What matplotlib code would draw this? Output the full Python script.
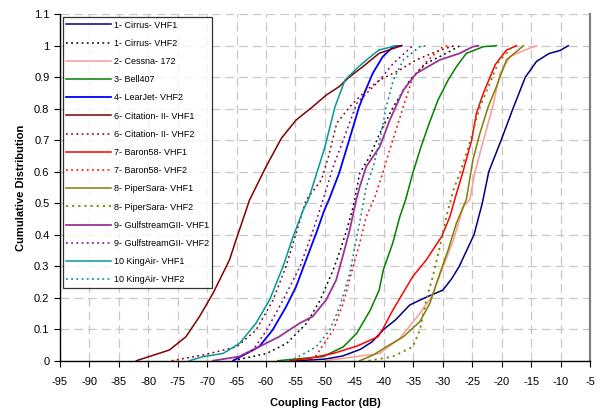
import matplotlib.pyplot as plt

plt.rcParams["font.family"] = ["Liberation Sans", "DejaVu Sans"]
plt.rcParams["axes.unicode_minus"] = False

# Empirical CDF curves traced as (coupling factor dB, cumulative fraction)
cdf_levels_cirrus1 = [0, 0.005, 0.015, 0.036, 0.06, 0.1, 0.13, 0.177, 0.2, 0.224, 0.26, 0.3, 0.4, 0.5, 0.6, 0.7, 0.8, 0.9, 0.95, 0.975, 0.985, 1.0]
db_cirrus1 = [-55, -50, -47, -44, -42, -40, -38, -35.6, -33, -30, -28.5, -27.2, -24.7, -23.3, -22.2, -20.1, -18.1, -16.0, -14.1, -12, -10.1, -8.7]

cdf_levels_cirrus2 = [0, 0.023, 0.055, 0.119, 0.193, 0.288, 0.351, 0.415, 0.489, 0.595, 0.648, 0.722, 0.806, 0.891, 0.944, 0.976, 1.0]
db_cirrus2 = [-65.6, -59.9, -56.5, -53.1, -50.8, -48.6, -47.4, -46.3, -45.2, -44.1, -42.4, -40.7, -38.4, -35.6, -32.8, -29.4, -27.1]

cdf_levels_cessna = [0, 0.023, 0.071, 0.15, 0.203, 0.30, 0.383, 0.489, 0.512, 0.595, 0.679, 0.754, 0.817, 0.912, 0.965, 0.98, 1.0]
db_cessna = [-50, -40.7, -37.3, -33.9, -31.9, -29.9, -28.2, -26.5, -25.4, -24.6, -23.4, -22.3, -21.4, -20.3, -18.6, -16.9, -14.1]

cdf_levels_bell = [0, 0.013, 0.044, 0.087, 0.161, 0.224, 0.288, 0.373, 0.457, 0.512, 0.595, 0.679, 0.754, 0.828, 0.891, 0.933, 0.976, 0.997, 1.0]
db_bell = [-58, -50.3, -46.9, -44.6, -42.3, -40.8, -40.1, -38.5, -37.3, -36.3, -35.1, -33.7, -32.3, -30.8, -29.1, -27.7, -26, -23.1, -20.9]

cdf_levels_learjet = [0, 0.044, 0.097, 0.171, 0.235, 0.32, 0.404, 0.478, 0.512, 0.595, 0.70, 0.806, 0.859, 0.912, 0.965, 0.997, 1.0]
db_learjet = [-65.6, -61.2, -58.9, -56.6, -54.9, -53.2, -51.5, -50.1, -49.3, -47.6, -45.9, -44.2, -43.1, -41.9, -40.2, -38.4, -37]

cdf_levels_citation1 = [0, 0.034, 0.076, 0.14, 0.214, 0.32, 0.383, 0.51, 0.616, 0.706, 0.764, 0.806, 0.843, 0.87, 0.90, 0.933, 0.976, 1.0]
db_citation1 = [-82, -76.4, -73.6, -71.3, -69.0, -66.2, -65.1, -62.8, -60.0, -57.4, -54.9, -52.1, -49.8, -47.6, -45.9, -43.6, -40.8, -37]

cdf_levels_citation2 = [0, 0.018, 0.044, 0.097, 0.193, 0.30, 0.404, 0.51, 0.574, 0.648, 0.754, 0.806, 0.859, 0.891, 0.923, 0.955, 0.986, 1.0]
db_citation2 = [-76, -70.7, -65.0, -61.7, -58.8, -56.6, -54.9, -53.2, -50.6, -49.4, -48.0, -45.8, -43.0, -40.7, -37.3, -34.5, -30.5, -28]

cdf_levels_baron1 = [0, 0.008, 0.023, 0.047, 0.076, 0.1, 0.16, 0.267, 0.32, 0.394, 0.457, 0.51, 0.605, 0.70, 0.785, 0.85, 0.94, 0.986, 1.0]
db_baron1 = [-56, -52.6, -48.6, -44.5, -41, -40.2, -38.5, -35.1, -32.8, -30.2, -28.8, -28, -26.5, -25.1, -24.3, -23.1, -21.1, -19.2, -17.5]

cdf_levels_baron2 = [0, 0.097, 0.182, 0.30, 0.373, 0.457, 0.521, 0.595, 0.70, 0.806, 0.90, 0.949, 0.997, 1.0]
db_baron2 = [-52.1, -48.6, -46.9, -45.2, -44.1, -43.0, -41.5, -40.2, -38.5, -36.7, -35.1, -32.8, -30.0, -29]

cdf_levels_piper1 = [0, 0.018, 0.044, 0.076, 0.124, 0.182, 0.277, 0.351, 0.436, 0.512, 0.637, 0.722, 0.806, 0.87, 0.955, 1.0]
db_piper1 = [-44.1, -41.8, -39.6, -36.7, -33.9, -32.2, -30.5, -29.1, -27.7, -26.0, -24.9, -23.7, -22.3, -20.9, -19.2, -16.3]

cdf_levels_piper2 = [0, 0.013, 0.044, 0.097, 0.193, 0.267, 0.362, 0.457, 0.542, 0.6, 0.7, 0.8, 0.9, 0.95, 1.0]
db_piper2 = [-42.6, -38.5, -35.1, -33.9, -32.8, -31.7, -30.5, -29.4, -28.2, -27.0, -25.3, -23.8, -21.6, -20.5, -18]

cdf_levels_gulf1 = [0, 0.013, 0.044, 0.076, 0.119, 0.14, 0.193, 0.256, 0.33, 0.415, 0.51, 0.552, 0.616, 0.679, 0.764, 0.859, 0.912, 0.955, 0.976, 0.997, 1.0]
db_gulf1 = [-69, -64.6, -61.2, -57.8, -54.3, -52.1, -49.8, -48.1, -47.0, -45.8, -44.7, -44.1, -43.0, -40.7, -39.0, -36.7, -34.5, -30.5, -27.1, -24.9, -24]

cdf_levels_gulf2 = [0, 0.034, 0.097, 0.193, 0.30, 0.415, 0.512, 0.616, 0.70, 0.817, 0.87, 0.891, 0.944, 1.0]
db_gulf2 = [-65.6, -62.2, -59.9, -57.1, -54.2, -52.0, -50.3, -48.6, -46.9, -44.6, -41.8, -40.7, -38.4, -35.1]

cdf_levels_kingair1 = [0, 0.013, 0.023, 0.055, 0.119, 0.193, 0.30, 0.394, 0.478, 0.512, 0.595, 0.679, 0.806, 0.891, 0.933, 0.96, 0.986, 1.0]
db_kingair1 = [-73, -70.7, -67.3, -64.5, -61.7, -59.4, -57.1, -55.4, -53.7, -52.8, -51.4, -50.0, -48.3, -46.6, -44.3, -42.6, -40.9, -38]

cdf_levels_kingair2 = [0, 0.008, 0.044, 0.097, 0.171, 0.277, 0.383, 0.489, 0.552, 0.616, 0.70, 0.806, 0.891, 0.955, 0.997, 1.0]
db_kingair2 = [-57, -54.9, -51.5, -49.2, -47.5, -45.8, -44.7, -43.6, -43.0, -41.8, -40.7, -39.6, -38.4, -36.7, -33.9, -33]

series_names = [
    "1- Cirrus- VHF1", "1- Cirrus- VHF2", "2- Cessna- 172", "3- Bell407",
    "4- LearJet- VHF2", "6- Citation- II- VHF1", "6- Citation- II- VHF2",
    "7- Baron58- VHF1", "7- Baron58- VHF2", "8- PiperSara- VHF1",
    "8- PiperSara- VHF2", "9- GulfstreamGII- VHF1", "9- GulfstreamGII- VHF2",
    "10 KingAir- VHF1", "10 KingAir- VHF2",
]
series_x = [db_cirrus1, db_cirrus2, db_cessna, db_bell, db_learjet,
            db_citation1, db_citation2, db_baron1, db_baron2, db_piper1,
            db_piper2, db_gulf1, db_gulf2, db_kingair1, db_kingair2]
series_y = [cdf_levels_cirrus1, cdf_levels_cirrus2, cdf_levels_cessna,
            cdf_levels_bell, cdf_levels_learjet, cdf_levels_citation1,
            cdf_levels_citation2, cdf_levels_baron1, cdf_levels_baron2,
            cdf_levels_piper1, cdf_levels_piper2, cdf_levels_gulf1,
            cdf_levels_gulf2, cdf_levels_kingair1, cdf_levels_kingair2]

dot = (0, (1.2, 2.2))
styles = [
    ("#000080", "-", 1.1), ("#000000", dot, 1.1), ("#FF9999", "-", 1.1),
    ("#008000", "-", 1.1), ("#0000FF", "-", 1.3), ("#800000", "-", 1.1),
    ("#800000", dot, 1.1), ("#FF0000", "-", 1.1), ("#FF0000", dot, 1.1),
    ("#808000", "-", 1.1), ("#808000", dot, 1.3), ("#993399", "-", 1.3),
    ("#800080", dot, 1.1), ("#009999", "-", 1.1), ("#008080", dot, 1.1),
]

fig = plt.figure(figsize=(6.04, 4.12), dpi=100)
ax = fig.add_axes([0.099, 0.1245, 0.878, 0.841])

for name, xs, ys, (color, ls, lw) in zip(series_names, series_x, series_y, styles):
    ax.plot(xs, ys, color=color, linestyle=ls, linewidth=lw, label=name)

ax.set_xlim(-95, -5)
ax.set_ylim(0, 1.1)
ax.set_xticks(range(-95, 0, 5))
ax.set_yticks([i / 10 for i in range(12)])
ax.set_yticklabels(["0", "0.1", "0.2", "0.3", "0.4", "0.5", "0.6", "0.7",
                    "0.8", "0.9", "1", "1.1"])
ax.tick_params(labelsize=8, direction="out", length=4, width=0.8)
ax.tick_params(axis="x", pad=8)
ax.grid(True, color="#c8c8c8", linestyle=(0, (7, 4)), linewidth=0.9)
ax.set_axisbelow(True)

for side in ("left", "bottom"):
    ax.spines[side].set_color("black")
    ax.spines[side].set_linewidth(1.0)
ax.spines["right"].set_color("#808080")
ax.spines["right"].set_linewidth(1.6)
ax.spines["top"].set_visible(False)

ax.set_xlabel("Coupling Factor (dB)", fontsize=8, fontweight="bold", labelpad=8)
ax.set_ylabel("Cumulative Distribution", fontsize=8, fontweight="bold", labelpad=6)

leg = ax.legend(loc="upper left", bbox_to_anchor=(0.0, 1.0), fontsize=6.5,
                frameon=True, fancybox=False, edgecolor="black",
                handlelength=5.0, handletextpad=0.27, labelspacing=1.02,
                borderpad=0.4, borderaxespad=0.3)
leg.get_frame().set_linewidth(0.9)

fig.savefig("out.png", dpi=100)
